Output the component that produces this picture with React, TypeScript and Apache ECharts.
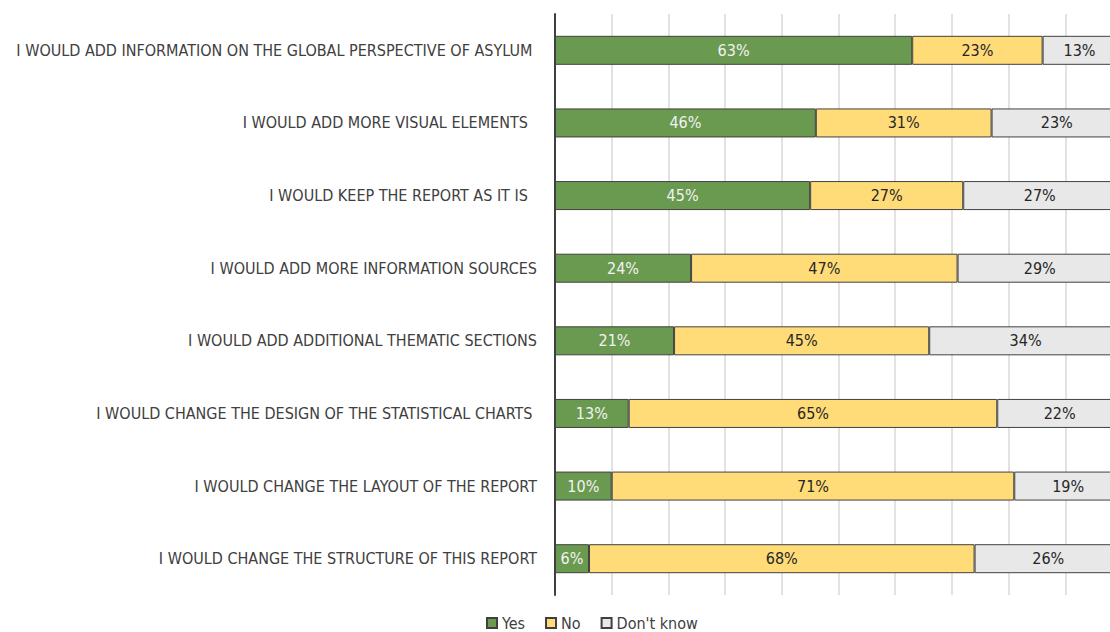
import React, { useEffect, useRef } from "react";
import * as echarts from "echarts";

const categories = [
  "I WOULD ADD INFORMATION ON THE GLOBAL PERSPECTIVE OF ASYLUM ",
  "I WOULD ADD MORE VISUAL ELEMENTS  ",
  "I WOULD KEEP THE REPORT AS IT IS  ",
  "I WOULD ADD MORE INFORMATION SOURCES",
  "I WOULD ADD ADDITIONAL THEMATIC SECTIONS",
  "I WOULD CHANGE THE DESIGN OF THE STATISTICAL CHARTS ",
  "I WOULD CHANGE THE LAYOUT OF THE REPORT",
  "I WOULD CHANGE THE STRUCTURE OF THIS REPORT",
];
const yesValues = [63, 46, 45, 24, 21, 13, 10, 6];
const noValues = [23, 31, 27, 47, 45, 65, 71, 68];
const dontKnowValues = [13, 23, 27, 29, 34, 22, 19, 26];
const seriesNames = ["Yes", "No", "Don't know"];

const FONT = "'Liberation Sans Narrow', 'DejaVu Sans Condensed', 'Open Sans', sans-serif";

export default function App() {
  const ref = useRef<HTMLDivElement>(null);
  useEffect(() => {
    if (!ref.current) return;
    const chart = echarts.init(ref.current, undefined, { renderer: "svg" });
    const mk = (name: string, data: number[], color: string, labelColor: string) => ({
      name,
      type: "bar",
      stack: "total",
      data,
      barWidth: 29,
      itemStyle: { color, borderColor: "#404040", borderWidth: 1 },
      label: {
        show: true,
        position: "inside",
        formatter: "{c}%",
        color: labelColor,
        fontFamily: FONT,
        fontSize: 16,
      },
    });
    chart.setOption({
      animation: false,
      backgroundColor: "#ffffff",
      grid: { left: 555, right: 0, top: 14, bottom: 37, containLabel: false },
      legend: {
        bottom: -4,
        left: 481,
        icon: "rect",
        itemWidth: 10,
        itemHeight: 10,
        itemGap: 20,
        textStyle: { fontFamily: FONT, fontSize: 16, color: "#404040" },
        data: seriesNames,
      },
      xAxis: {
        type: "value",
        min: 0,
        max: 100,
        interval: 10,
        axisLabel: { show: false },
        axisLine: { show: false },
        axisTick: { show: false },
        splitLine: { show: true, lineStyle: { color: "#d9d9d9", width: 1.5 } },
      },
      yAxis: {
        type: "category",
        inverse: true,
        data: categories,
        axisLine: { show: true, lineStyle: { color: "#404040", width: 2 } },
        axisTick: { show: false },
        axisLabel: {
          margin: 18,
          fontFamily: FONT,
          fontSize: 16,
          color: "#404040",
        },
      },
      series: [
        mk(seriesNames[0], yesValues, "#6a9a50", "#f2f2f2"),
        mk(seriesNames[1], noValues, "#ffdc78", "#262626"),
        mk(seriesNames[2], dontKnowValues, "#e8e8e8", "#262626"),
      ],
    });
    return () => chart.dispose();
  }, []);
  return (
    <div
      style={{
        position: "fixed",
        left: 0,
        top: 0,
        width: 1110,
        height: 632,
        overflow: "hidden",
        background: "#ffffff",
      }}
    >
      <div ref={ref} style={{ width: 1122, height: 632 }} />
    </div>
  );
}
